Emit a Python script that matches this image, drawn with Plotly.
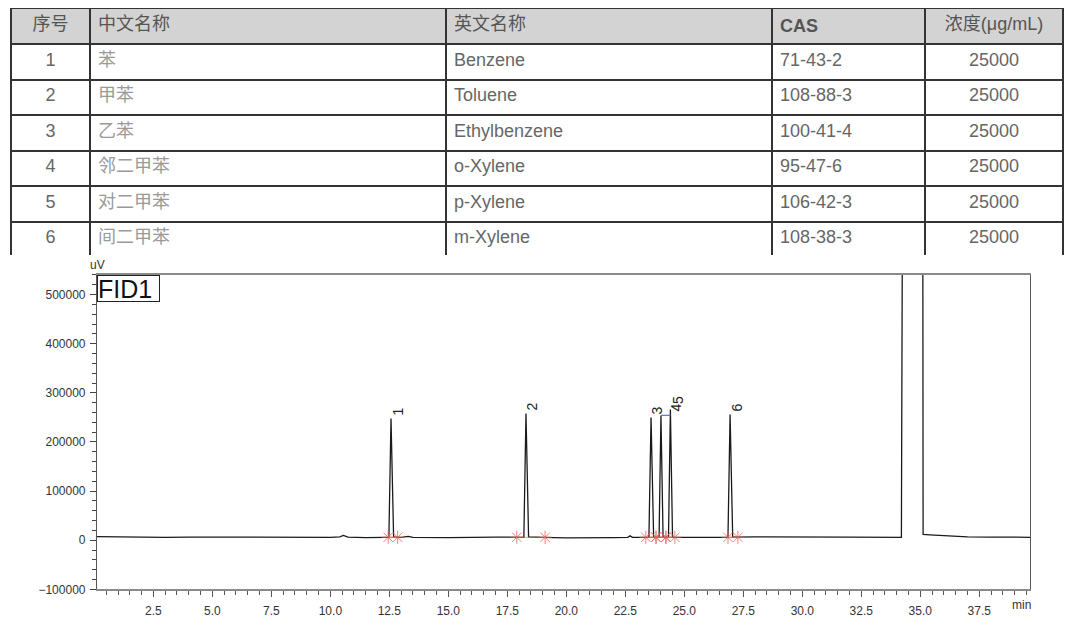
import plotly.graph_objects as go

# ---------------- table data ----------------
col_headers = ["序号", "中文名称", "英文名称", "<b>CAS</b>", "浓度(μg/mL)"]
seq_no = ["1", "2", "3", "4", "5", "6"]
cn_names = ["苯", "甲苯", "乙苯", "邻二甲苯", "对二甲苯", "间二甲苯"]
en_names = ["Benzene", "Toluene", "Ethylbenzene", "o-Xylene", "p-Xylene", "m-Xylene"]
cas_nos = ["71-43-2", "108-88-3", "100-41-4", "95-47-6", "106-42-3", "108-38-3"]
concs = ["25000", "25000", "25000", "25000", "25000", "25000"]

# ---------------- chromatogram data ----------------
time_min = [0.1, 1.0, 2.0, 3.0, 4.0, 5.0, 5.5, 6.5, 8.0, 9.0, 10.0, 10.4, 10.55, 10.75,
            11.5, 12.3, 12.48, 12.57, 12.68, 13.0, 13.3, 13.5, 15.0, 17.0, 18.2, 18.29,
            18.4, 19.0, 20.0, 22.0, 22.6, 22.7, 22.8, 23.5, 23.59, 23.7, 23.93, 24.01,
            24.1, 24.33, 24.41, 24.5, 25.0, 26.85, 26.94, 27.05, 28.0, 30.0, 32.0, 34.2,
            34.33, 35.08, 35.12, 35.4, 36.0, 37.0, 38.0, 39.65]
signal_uv = [7500, 7000, 5500, 6000, 6500, 6500, 5000, 6500, 6500, 6000, 6000, 7000, 10000,
             6500, 5500, 6000, 6000, 248000, 7000, 6000, 8000, 6000, 5500, 6500, 6000,
             258000, 7000, 6000, 5000, 5500, 6000, 9000, 6000, 6000, 250000, 6000, 6000,
             254000, 6000, 6000, 266000, 6000, 6000, 6000, 256000, 6500, 7000, 6000, 6500,
             6000, 2000000, 2000000, 12000, 11000, 9000, 7000, 6500, 6000]

peak_labels = ["1", "2", "3", "4", "5", "6"]
peak_times = [12.57, 18.29, 23.59, 24.01, 24.41, 26.94]
peak_heights = [248000, 258000, 250000, 254000, 266000, 256000]

# integration start / end markers
int_start = [12.45, 17.9, 23.37, 23.8, 24.22, 26.85]
int_end = [12.85, 19.1, 23.8, 24.22, 24.6, 27.27]
baseline_level = 6000

# the page body keeps its default 8px margin: size the figure to fit inside it
OX, OY = 8, 8
W, H = 1080 - 2 * OX, 637 - 2 * OY


def px(x):
    return (x - OX) / W


def py(y):
    return 1 - (y - OY) / H


fig = go.Figure()

# ---------------- table ----------------
cell_font_colors = ["#666666", "#9a9a9a", "#666666", "#666666", "#666666"]
fig.add_trace(go.Table(
    domain=dict(x=[px(11), px(1063)], y=[py(258), 1]),
    columnwidth=[79, 356, 326, 153, 138],
    header=dict(
        values=col_headers,
        fill_color="#d3d3d3",
        line=dict(color="#333333", width=2),
        align=["center", "left", "left", "left", "center"],
        font=dict(family="Liberation Sans, Noto Sans CJK SC", size=18, color="#555555"),
        height=33,
    ),
    cells=dict(
        values=[seq_no, cn_names, en_names, cas_nos, concs],
        fill_color="white",
        line=dict(color="#333333", width=2),
        align=["center", "left", "left", "left", "center"],
        font=dict(family="Liberation Sans, Noto Sans CJK SC", size=18, color=cell_font_colors),
        height=35.5,
    ),
))

# ---------------- chromatogram ----------------
fig.add_trace(go.Scatter(
    x=time_min, y=signal_uv, mode="lines",
    line=dict(color="#1a1a1a", width=1.3),
    showlegend=False, hoverinfo="skip",
))

# red integration baselines
bx, by = [], []
for s, e in zip(int_start, int_end):
    bx += [s, e, None]
    by += [baseline_level, baseline_level, None]
fig.add_trace(go.Scatter(
    x=bx, y=by, mode="lines",
    line=dict(color="rgba(230,80,80,0.6)", width=1),
    showlegend=False, hoverinfo="skip",
))
fig.add_trace(go.Scatter(
    x=int_start + int_end, y=[baseline_level] * (len(int_start) + len(int_end)),
    mode="markers",
    marker=dict(symbol="asterisk-open", size=11, color="rgba(235,90,90,0.75)",
                line=dict(color="rgba(235,90,90,0.75)", width=1)),
    showlegend=False, hoverinfo="skip",
))

# blue connector between peaks 4 and 5 labels
fig.add_trace(go.Scatter(
    x=[peak_times[3], peak_times[4]], y=[peak_heights[3], peak_heights[3]],
    mode="lines", line=dict(color="#6f6fe0", width=1.2),
    showlegend=False, hoverinfo="skip",
))

label_xshift = [7, 7, 6, 16, 7, 7]
label_yshift = [7, 7, 7, 8, 10, 7]
for lab, t, h, dx, dy in zip(peak_labels, peak_times, peak_heights, label_xshift, label_yshift):
    fig.add_annotation(
        x=t, y=h, text=lab, showarrow=False, textangle=-90,
        xshift=dx, yshift=dy, xanchor="center", yanchor="middle",
        font=dict(family="Liberation Sans", size=14, color="#222222"),
    )

# FID1 box
fig.add_annotation(
    xref="paper", yref="paper", x=px(97), y=py(278),
    xanchor="left", yanchor="top", text="FID1", showarrow=False,
    font=dict(family="Liberation Sans", size=25, color="#111111"),
    bordercolor="#222222", borderwidth=1, bgcolor="white",
    width=61, height=25, align="left", borderpad=0,
)
# axis units
fig.add_annotation(
    xref="paper", yref="paper", x=px(97), y=py(277),
    xanchor="center", yanchor="bottom", text="uV", showarrow=False,
    font=dict(family="Liberation Sans", size=12, color="#333333"),
)
fig.add_annotation(
    xref="paper", yref="paper", x=px(1021), y=py(603),
    xanchor="center", yanchor="top", text="min", showarrow=False,
    font=dict(family="Liberation Sans", size=12, color="#333333"),
)

fig.update_layout(
    width=W, height=H,
    margin=dict(l=0, r=0, t=0, b=0),
    paper_bgcolor="white", plot_bgcolor="white",
    showlegend=False,
    xaxis=dict(
        domain=[px(97), px(1030)],
        range=[0.11, 39.65],
        tick0=0, dtick=2.5, tickformat=".1f",
        ticks="outside", ticklen=6, tickcolor="#555555",
        minor=dict(dtick=0.5, ticks="outside", ticklen=4, tickcolor="#555555"),
        showgrid=False, zeroline=False,
        showline=True, linecolor="#8a8a8a", linewidth=1.5, mirror=True,
        tickfont=dict(family="Liberation Sans", size=12, color="#333333"),
        ticklabelstandoff=3,
    ),
    yaxis=dict(
        domain=[py(596), py(278)],
        range=[-100000, 540000],
        tick0=0, dtick=100000, tickformat="d",
        ticks="outside", ticklen=6, tickcolor="#444444",
        minor=dict(dtick=20000, ticks="outside", ticklen=4, tickcolor="#444444"),
        showgrid=False, zeroline=False,
        showline=True, linecolor="#555555", linewidth=1.2, mirror=True,
        tickfont=dict(family="Liberation Sans", size=12, color="#333333"),
        ticklabelstandoff=2,
    ),
)

fig.write_html("out.html")
